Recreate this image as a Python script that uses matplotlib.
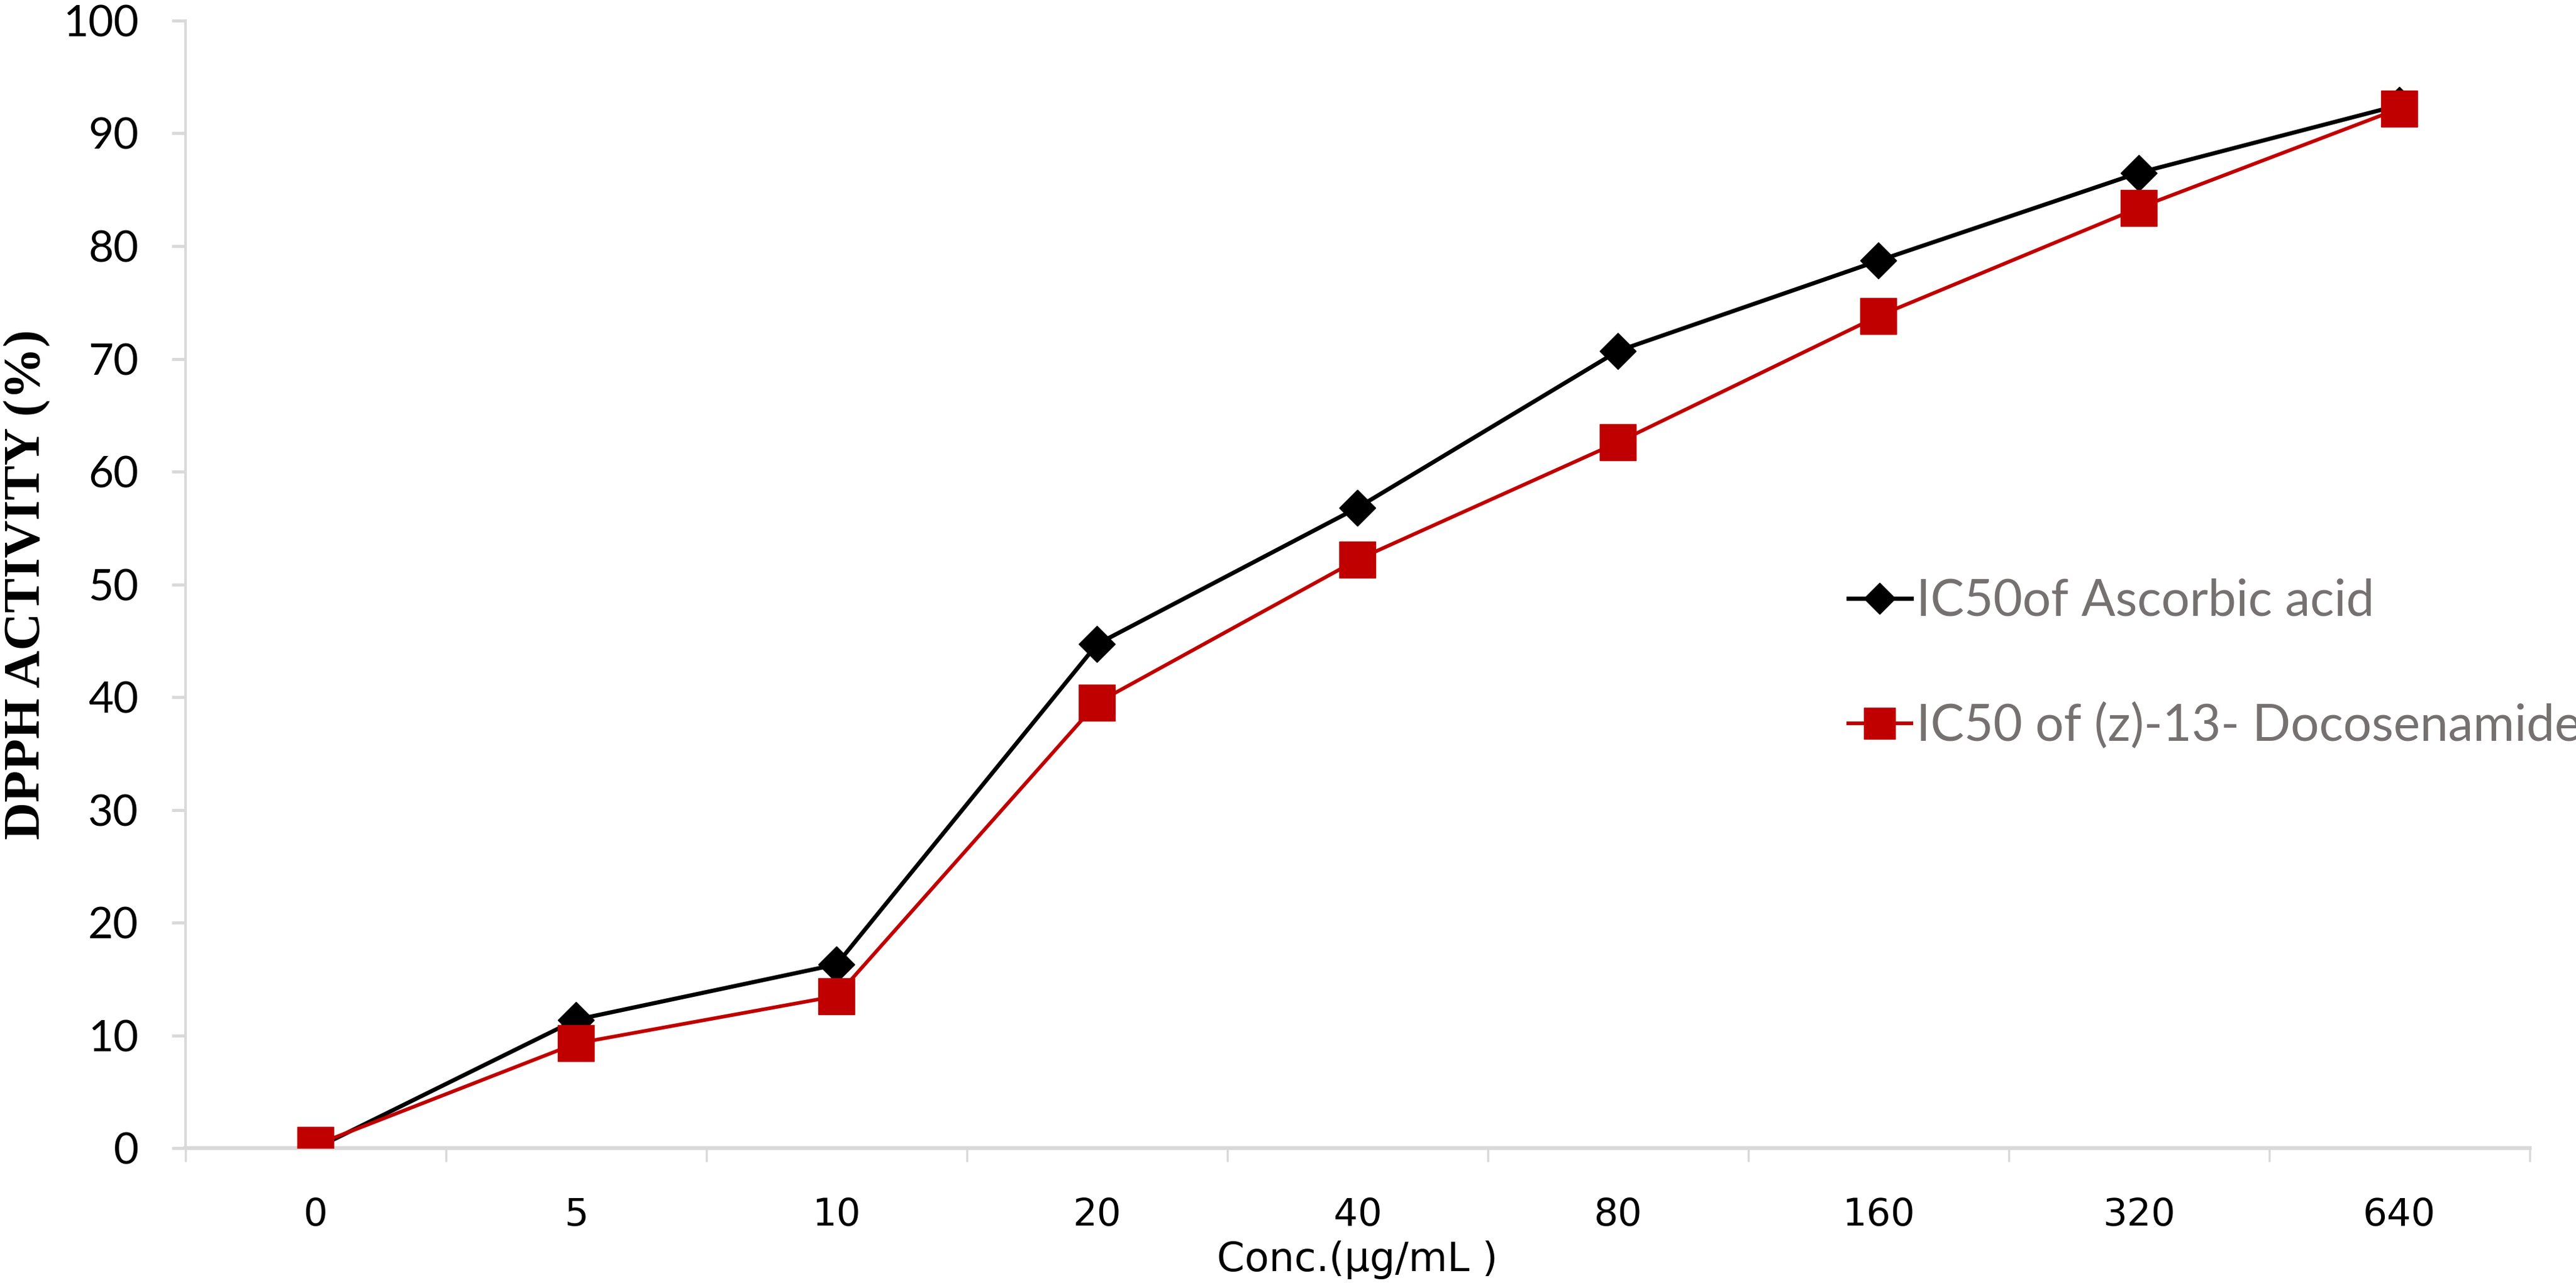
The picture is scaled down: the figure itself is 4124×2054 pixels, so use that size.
import matplotlib.pyplot as plt
import numpy as np

conc_labels = ['0', '5', '10', '20', '40', '80', '160', '320', '640']
ascorbic = [0.0, 11.4, 16.3, 44.7, 56.8, 70.7, 78.7, 86.5, 92.5]
docosenamide = [0.3, 9.3, 13.5, 39.5, 52.2, 62.6, 73.8, 83.4, 92.2]

grey_axis = '#D9D9D9'
red = '#C00000'

fig = plt.figure(figsize=(41.24, 20.54), dpi=100)
ax = fig.add_axes([0.072, 0.105, 0.910, 0.879])

x = np.arange(len(conc_labels))
ax.plot(x, ascorbic, color='black', lw=4.8, marker='D', ms=30,
        label='IC50of Ascorbic acid', zorder=3)
ax.plot(x, docosenamide, color=red, lw=4.2, marker='s', ms=42,
        label='IC50 of (z)-13- Docosenamide', zorder=4)

ax.set_xlim(-0.5, len(conc_labels) - 0.5)
ax.set_ylim(0, 100)
ax.set_yticks(np.arange(0, 101, 10))
ax.set_xticks(x)
ax.set_xticklabels(conc_labels)
ax.set_xticks(np.arange(-0.5, len(conc_labels)), minor=True)

for s in ['top', 'right']:
    ax.spines[s].set_visible(False)
ax.spines['left'].set_color(grey_axis)
ax.spines['left'].set_linewidth(3)
ax.spines['bottom'].set_color(grey_axis)
ax.spines['bottom'].set_linewidth(4.5)

ax.tick_params(axis='y', which='major', length=16, width=3.5, color=grey_axis,
               pad=38, labelsize=50)
ax.tick_params(axis='x', which='major', length=0, pad=56, labelsize=44)
ax.tick_params(axis='x', which='minor', length=16, width=2.5, color=grey_axis)
for lab in ax.get_yticklabels():
    lab.set_fontfamily('Lato')
for lab in ax.get_xticklabels():
    lab.set_fontfamily('DejaVu Sans')

ax.set_xlabel('Conc.(µg/mL )', fontsize=46, family='DejaVu Sans', labelpad=8)
ax.set_ylabel('DPPH ACTIVITY (%)', fontsize=60, family='Liberation Serif',
              fontweight='bold', va='center')
ax.yaxis.set_label_coords(-0.0675, 0.5)

leg = ax.legend(loc='center left', bbox_to_anchor=(0.7175, 0.4825),
                bbox_transform=fig.transFigure, frameon=False,
                prop={'family': 'Lato', 'size': 58}, handlelength=1.25,
                handletextpad=0.1, labelspacing=1.55, borderpad=0,
                borderaxespad=0, markerscale=0.85)
for t in leg.get_texts():
    t.set_color('#767171')

fig.savefig('out.png', dpi=100)
